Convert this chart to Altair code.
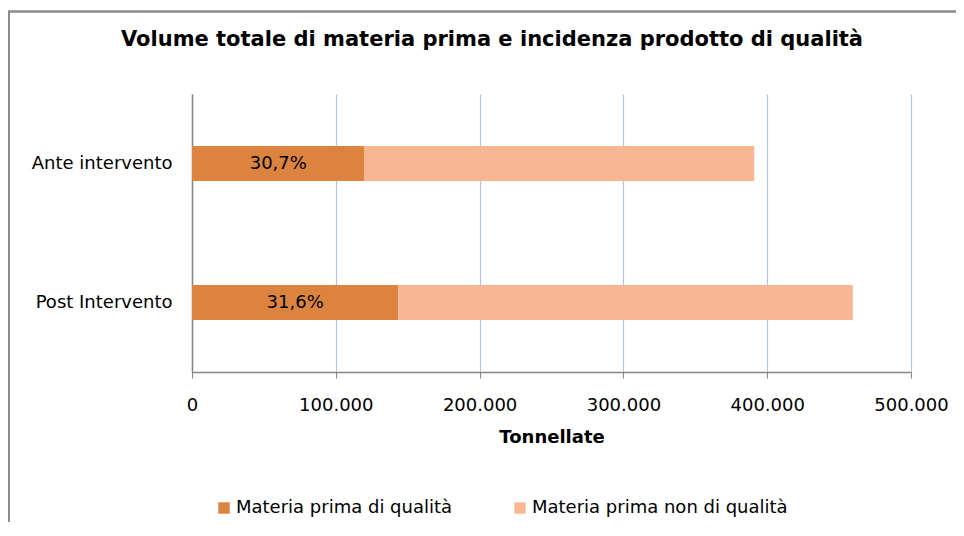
import altair as alt
import pandas as pd

categories = ["Ante intervento", "Post Intervento"]
quality = [120000, 143500]
total = [391000, 459500]
share_labels = ["30,7%", "31,6%"]
series = ["Materia prima di qualità", "Materia prima non di qualità"]
colors = ["#DC843F", "#F8B692"]
ticks = [0, 100000, 200000, 300000, 400000, 500000]
title_text = "Volume totale di materia prima e incidenza prodotto di qualità"

rows = []
for c, q, t in zip(categories, quality, total):
    rows.append({"cat": c, "serie": series[0], "val": q, "ord": 0})
    rows.append({"cat": c, "serie": series[1], "val": t - q, "ord": 1})
df = pd.DataFrame(rows)
lab = pd.DataFrame({"cat": categories, "mid": [q / 2 for q in quality], "lab": share_labels})
ttl = pd.DataFrame({"t": [title_text]})

FONT = "DejaVu Sans"

xscale = alt.Scale(domain=[0, 500000], nice=False)
yscale = alt.Scale(domain=categories)

bars = alt.Chart(df).mark_bar(size=35).encode(
    y=alt.Y("cat:N", scale=yscale, title=None,
            axis=alt.Axis(ticks=False, labelPadding=20, labelFontSize=18, labelFont=FONT,
                          labelColor="#000000", domainColor="#868686", domainWidth=1.5, grid=False)),
    x=alt.X("val:Q", stack="zero", scale=xscale, title="Tonnellate",
            axis=alt.Axis(values=ticks, labelExpr="replace(format(datum.value, ',d'), /,/g, '.')",
                          labelFlush=False, labelOverlap=False,
                          labelFontSize=18, labelFont=FONT, labelColor="#000000", labelPadding=18,
                          tickSize=6, tickColor="#868686", domainColor="#868686", domainWidth=1.5,
                          gridColor="#B4C6E7", gridWidth=1.2,
                          titleFontSize=18, titleFont=FONT, titleFontWeight="bold", titleColor="#000000",
                          titlePadding=14)),
    color=alt.Color("serie:N", scale=alt.Scale(domain=series, range=colors),
                    legend=alt.Legend(title=None, orient="none", legendX=23, legendY=405,
                                      direction="horizontal", symbolType="square", symbolSize=130,
                                      symbolStrokeWidth=0, labelFontSize=18, labelFont=FONT,
                                      labelColor="#000000", labelOffset=3, columnPadding=58,
                                      labelLimit=0)),
    order=alt.Order("ord:Q"),
)

texts = alt.Chart(lab).mark_text(fontSize=18, font=FONT, color="#000000").encode(
    y=alt.Y("cat:N", scale=yscale),
    x=alt.X("mid:Q", scale=xscale),
    text="lab:N",
)

title_mark = alt.Chart(ttl).mark_text(fontSize=21, font=FONT, fontWeight="bold", color="#000000",
                                      baseline="middle", align="center").encode(
    x=alt.value(300), y=alt.value(-54), text="t:N"
)

frame = alt.Chart(lab).mark_rect(fill=None, stroke="#8C8C8C", strokeWidth=2).encode(
    x=alt.value(-183), x2=alt.value(790), y=alt.value(-82.5), y2=alt.value(460)
)

chart = alt.layer(frame, bars, texts, title_mark).properties(
    width=719, height=278,
    autosize="none",
    background="#FFFFFF",
    padding={"left": 184, "top": 86, "right": 45, "bottom": 150},
).configure_view(stroke=None)

chart.save("out.html", embed_options={"renderer": "svg", "actions": False})
